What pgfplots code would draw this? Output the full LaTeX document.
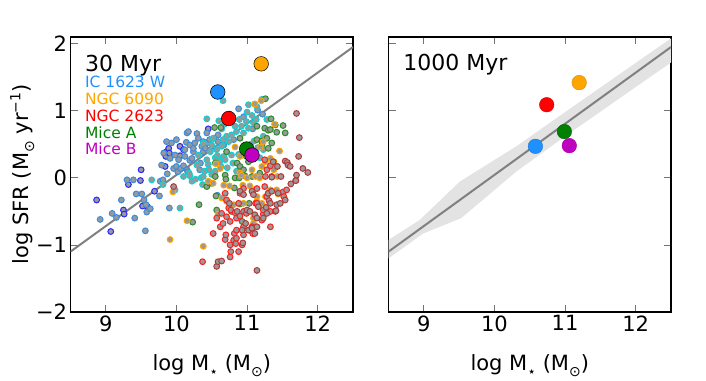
\documentclass[border=0pt]{standalone}
\usepackage{fontspec}
\setmainfont{DejaVu Sans}
\usepackage{pgfplots}
\pgfplotsset{compat=1.18}
\definecolor{ptface}{RGB}{153,153,153}
\definecolor{cblue}{RGB}{40,40,255}
\definecolor{cdodger}{RGB}{60,140,220}
\definecolor{ccyan}{RGB}{20,206,209}
\definecolor{cgreen}{RGB}{40,140,40}
\definecolor{corange}{RGB}{255,165,0}
\definecolor{cred}{RGB}{255,30,30}
\definecolor{cbrown}{RGB}{180,55,55}
\definecolor{bigblue}{RGB}{30,144,255}
\definecolor{bigorange}{RGB}{255,165,0}
\definecolor{bigred}{RGB}{255,0,0}
\definecolor{biggreen}{RGB}{0,128,0}
\definecolor{bigmag}{RGB}{191,0,191}
\definecolor{bandgray}{RGB}{227,227,227}
\definecolor{linegray}{RGB}{128,128,128}
\newcommand{\sub}[1]{\raisebox{-0.45ex}{\fontsize{14}{14}\selectfont #1}}
\newcommand{\subx}[1]{\raisebox{-0.55ex}{\fontsize{14}{14}\selectfont #1}}
\newcommand{\sups}[1]{\raisebox{0.75ex}{\fontsize{14}{14}\selectfont #1}}
\pgfplotsset{
  panel/.style={
    scale only axis, width=282.5pt, height=275pt,
    xmin=8.5, xmax=12.5, ymin=-2, ymax=2.1,
    xtick={9,10,11,12}, xticklabels={9,10,11,12},
    ytick={-2,-1,0,1,2},
    tick align=inside, major tick length=7pt,
    tick style={black!55, line width=0.8pt},
    axis line style={black, line width=1.2pt},
    tick label style={font=\fontsize{21}{25}\selectfont},
    label style={font=\fontsize{21}{25}\selectfont},
    xlabel={log M\subx{⋆}\ (M\subx{⊙})},
    xlabel style={at={(axis description cs:0.5,0)}, anchor=base, yshift=-58.5pt},
  },
  sm/.style={only marks, mark=*, mark size=2.9pt, mark options={fill=ptface, draw=#1, line width=1pt}},
  big/.style={only marks, mark=*, mark size=7.3pt, mark options={fill=#1, draw=black, line width=0.5pt}},
  bigr/.style={only marks, mark=*, mark size=7.3pt, mark options={fill=#1, draw=#1!85!black, line width=0.4pt}},
}
\begin{document}
\begin{tikzpicture}
\useasboundingbox (0,0) rectangle (706pt,380pt);
\begin{axis}[panel, at={(70.5pt,68pt)}, anchor=south west,
  yticklabels={−2,−1,0,1,2},
  ylabel={log SFR (M\sub{⊙}\ yr\sups{−1})},
  ylabel style={at={(axis description cs:-0.147,0.5)}, anchor=base}]
% blue
\addplot[sm=cblue] table {
8.87 -0.33
9.07 -0.80
9.25 -0.48
9.26 -0.54
9.32 -0.10
9.49 -0.04
9.50 0.12
9.52 -0.42
9.59 -0.43
9.69 -0.20
9.84 0.17
9.85 0.32
9.86 0.39
9.89 0.44
9.90 0.37
10.05 0.33
10.05 0.47
10.10 0.42
10.45 0.73
};
% dodger
\addplot[sm=cdodger] table {
8.92 -0.62
9.09 -0.53
9.15 -0.59
9.22 -0.33
9.30 -0.03
9.39 -0.03
9.41 -0.60
9.43 -0.24
9.51 -0.24
9.54 -0.33
9.56 -0.79
9.57 -0.40
9.58 -0.51
9.63 -0.46
9.76 -0.27
9.77 -0.05
9.79 0.19
9.82 0.37
9.87 0.06
9.90 -0.45
9.93 0.52
9.86 0.54
9.96 0.14
9.98 0.34
9.91 0.29
10.00 0.57
10.00 0.17
10.02 0.09
10.03 0.27
10.06 0.14
10.10 0.18
10.12 0.32
10.12 0.42
10.14 0.53
10.15 0.12
10.15 0.67
10.16 0.09
10.17 0.69
10.19 0.26
10.19 0.49
10.22 0.29
10.24 0.39
10.24 0.44
10.26 0.52
10.29 0.66
10.31 0.59
10.33 0.12
10.34 0.22
10.36 0.47
10.38 0.54
10.38 0.39
10.41 0.44
10.43 0.67
10.44 0.52
10.47 0.57
10.48 0.42
10.53 0.59
10.59 0.54
10.59 0.64
10.67 0.49
10.81 0.57
10.88 1.03
10.95 0.91
11.15 1.01
11.22 0.95
11.08 0.73
10.58 -0.26
9.81 -0.03
};
% cyan
\addplot[sm=ccyan] table {
9.65 -0.03
9.81 -0.10
9.98 -0.18
10.05 -0.45
10.10 0.02
10.18 0.07
10.19 0.03
10.22 -0.05
10.27 -0.02
10.29 0.19
10.31 0.34
10.35 0.00
10.37 -0.10
10.38 0.52
10.38 0.02
10.40 0.10
10.43 0.27
10.43 0.88
10.45 0.20
10.46 0.12
10.48 0.39
10.50 0.49
10.50 0.05
10.52 0.59
10.55 0.30
10.55 0.10
10.57 0.42
10.58 0.33
10.60 0.29
10.60 0.85
10.62 0.25
10.63 0.17
10.64 0.47
10.64 0.73
10.66 0.57
10.66 1.15
10.67 0.32
10.68 0.80
10.69 0.27
10.71 0.62
10.72 0.15
10.74 0.54
10.75 0.95
10.78 0.64
10.78 0.34
10.80 0.22
10.83 0.77
10.85 0.69
10.85 0.10
10.88 0.35
10.89 0.87
10.92 0.77
10.95 0.67
10.95 0.45
10.99 0.84
11.00 0.98
11.02 0.74
11.02 1.09
11.05 0.50
11.07 0.93
11.09 0.82
11.10 0.55
11.11 1.10
11.13 0.87
11.14 1.06
11.15 0.45
11.18 0.30
11.21 1.17
11.23 0.62
11.23 0.42
11.28 0.87
};
% green
\addplot[sm=cgreen] table {
10.23 -0.66
10.32 -0.40
10.43 -0.13
10.47 -0.08
10.50 -0.08
10.54 0.75
10.55 0.22
10.55 0.02
10.56 -0.27
10.57 -0.48
10.63 0.75
10.69 0.04
10.70 -0.02
10.71 0.39
10.78 -0.50
10.82 -0.15
10.83 0.00
10.86 0.22
10.89 0.00
10.90 0.17
10.90 0.59
10.90 -0.39
10.93 -0.65
10.95 0.12
10.97 0.03
10.99 0.32
11.02 0.24
11.03 -0.38
11.07 0.02
11.14 0.57
11.14 0.77
11.18 0.07
11.21 0.49
11.21 0.55
11.25 0.74
11.26 1.18
11.28 0.59
11.30 0.71
11.30 0.44
11.33 0.72
11.34 0.88
11.35 0.52
11.40 0.79
11.42 0.68
11.51 0.78
11.54 0.67
};
% orange
\addplot[sm=corange] table {
9.91 -0.92
9.95 -0.21
10.15 -0.64
10.38 -1.02
10.45 -0.05
10.52 -0.08
10.56 0.21
10.59 -0.54
10.62 0.14
10.64 -0.30
10.67 -0.11
10.71 -0.35
10.75 -0.12
10.81 -0.40
10.83 0.46
10.90 0.07
10.90 0.32
10.92 0.04
10.94 -0.11
10.95 -0.38
11.00 0.00
11.04 -0.12
11.07 0.12
11.09 -0.18
11.09 -0.60
11.09 -0.68
11.11 1.10
11.12 0.02
11.14 -0.28
11.14 -0.35
11.18 0.00
11.19 0.46
11.20 1.15
11.21 0.17
11.21 -0.38
11.23 0.54
11.26 0.24
11.26 -0.28
11.33 0.29
11.33 -0.18
11.33 0.18
11.38 0.12
11.38 0.24
11.39 0.80
11.42 -0.18
11.43 0.02
11.44 -0.24
11.46 0.40
11.49 -0.23
};
% red
\addplot[sm=cred] table {
10.37 -1.25
10.52 -0.83
10.57 -0.60
10.62 -0.73
10.64 -0.53
10.66 -0.68
10.69 -0.92
10.69 -0.23
10.70 -0.85
10.71 -0.33
10.71 -0.58
10.74 -0.45
10.76 -0.65
10.76 -1.00
10.76 -1.18
10.77 -1.10
10.77 -0.48
10.81 -0.93
10.82 -0.83
10.83 -0.52
10.84 -0.98
10.85 -0.60
10.85 -0.90
10.85 -0.78
10.88 -0.38
10.88 -1.10
10.90 -0.57
10.90 -0.23
10.93 -1.00
10.95 -0.50
10.95 -0.73
10.95 -0.85
10.95 -0.16
10.99 -0.53
11.04 -0.78
11.07 -0.73
11.08 -0.83
11.12 -0.38
11.14 -0.16
11.14 -0.38
11.21 -0.63
11.23 -0.54
11.23 -0.48
11.25 -0.13
11.25 0.27
11.26 0.02
11.28 0.12
11.28 -0.28
11.30 -0.23
11.33 0.18
11.33 -0.50
11.33 -0.73
11.35 0.02
11.40 -0.50
11.51 -0.21
11.52 -0.28
11.56 -0.18
11.69 -0.04
};
% brown
\addplot[sm=cbrown] table {
9.96 -0.13
10.57 -1.32
10.59 -1.25
10.64 -1.24
10.75 -0.38
10.86 -0.50
10.90 -0.20
10.93 -0.78
10.94 -0.97
10.95 -0.25
10.98 -0.68
11.00 -0.48
11.02 -0.78
11.04 -0.50
11.07 -0.75
11.07 -0.20
11.09 -0.25
11.11 -0.55
11.11 -0.83
11.14 -0.60
11.14 -0.73
11.14 -1.38
11.16 -0.43
11.23 -0.60
11.27 -0.44
11.28 -0.53
11.30 -0.23
11.31 -0.34
11.33 -0.38
11.35 0.01
11.35 -0.20
11.37 0.24
11.41 -0.49
11.42 -0.40
11.43 0.17
11.44 -0.23
11.47 -0.38
11.48 0.02
11.54 0.25
11.54 -0.33
11.57 0.23
11.58 0.19
11.61 0.17
11.62 -0.09
11.69 -0.04
11.70 0.96
11.70 0.04
11.73 0.32
11.74 0.60
11.79 0.14
11.86 0.08
};
\addplot[linegray, line width=2pt] coordinates {(8.5,-1.10) (12.5,1.95)};
\addplot[big=bigorange] coordinates {(11.20,1.70)};
\addplot[big=bigblue] coordinates {(10.585,1.28)};
\addplot[big=bigred] coordinates {(10.74,0.885)};
\addplot[big=biggreen] coordinates {(10.995,0.43)};
\addplot[big=bigmag] coordinates {(11.07,0.34)};
\node[anchor=base west, inner sep=0pt, font=\fontsize{22}{26}\selectfont] at (axis description cs:0.051,0.873) {30 Myr};
\node[anchor=base west, inner sep=0pt, text=bigblue, font=\fontsize{15.5}{18}\selectfont] at (axis description cs:0.051,0.815) {IC 1623 W};
\node[anchor=base west, inner sep=0pt, text=bigorange, font=\fontsize{15.5}{18}\selectfont] at (axis description cs:0.051,0.755) {NGC 6090};
\node[anchor=base west, inner sep=0pt, text=bigred, font=\fontsize{15.5}{18}\selectfont] at (axis description cs:0.051,0.693) {NGC 2623};
\node[anchor=base west, inner sep=0pt, text=biggreen, font=\fontsize{15.5}{18}\selectfont] at (axis description cs:0.051,0.631) {Mice A};
\node[anchor=base west, inner sep=0pt, text=bigmag, font=\fontsize{15.5}{18}\selectfont] at (axis description cs:0.051,0.571) {Mice B};
\end{axis}
\begin{axis}[panel, at={(388.5pt,68pt)}, anchor=south west, yticklabels={}]
\addplot[fill=bandgray, draw=none] coordinates {
(8.5,-0.925) (8.94,-0.63) (9.51,-0.055) (10.31,0.47) (11.0,0.98) (12.5,2.08)
(12.5,1.72) (11.0,0.62) (10.31,0.094) (9.53,-0.60) (8.99,-0.83) (8.5,-1.20)} -- cycle;
\addplot[linegray, line width=2pt] coordinates {(8.5,-1.10) (12.5,1.95)};
\addplot[bigr=bigorange] coordinates {(11.20,1.42)};
\addplot[bigr=bigred] coordinates {(10.74,1.09)};
\addplot[bigr=biggreen] coordinates {(10.99,0.69)};
\addplot[bigr=bigblue] coordinates {(10.58,0.47)};
\addplot[bigr=bigmag] coordinates {(11.06,0.48)};
\node[anchor=base west, inner sep=0pt, font=\fontsize{22}{26}\selectfont] at (axis description cs:0.052,0.877) {1000 Myr};
\end{axis}
\end{tikzpicture}
\end{document}
